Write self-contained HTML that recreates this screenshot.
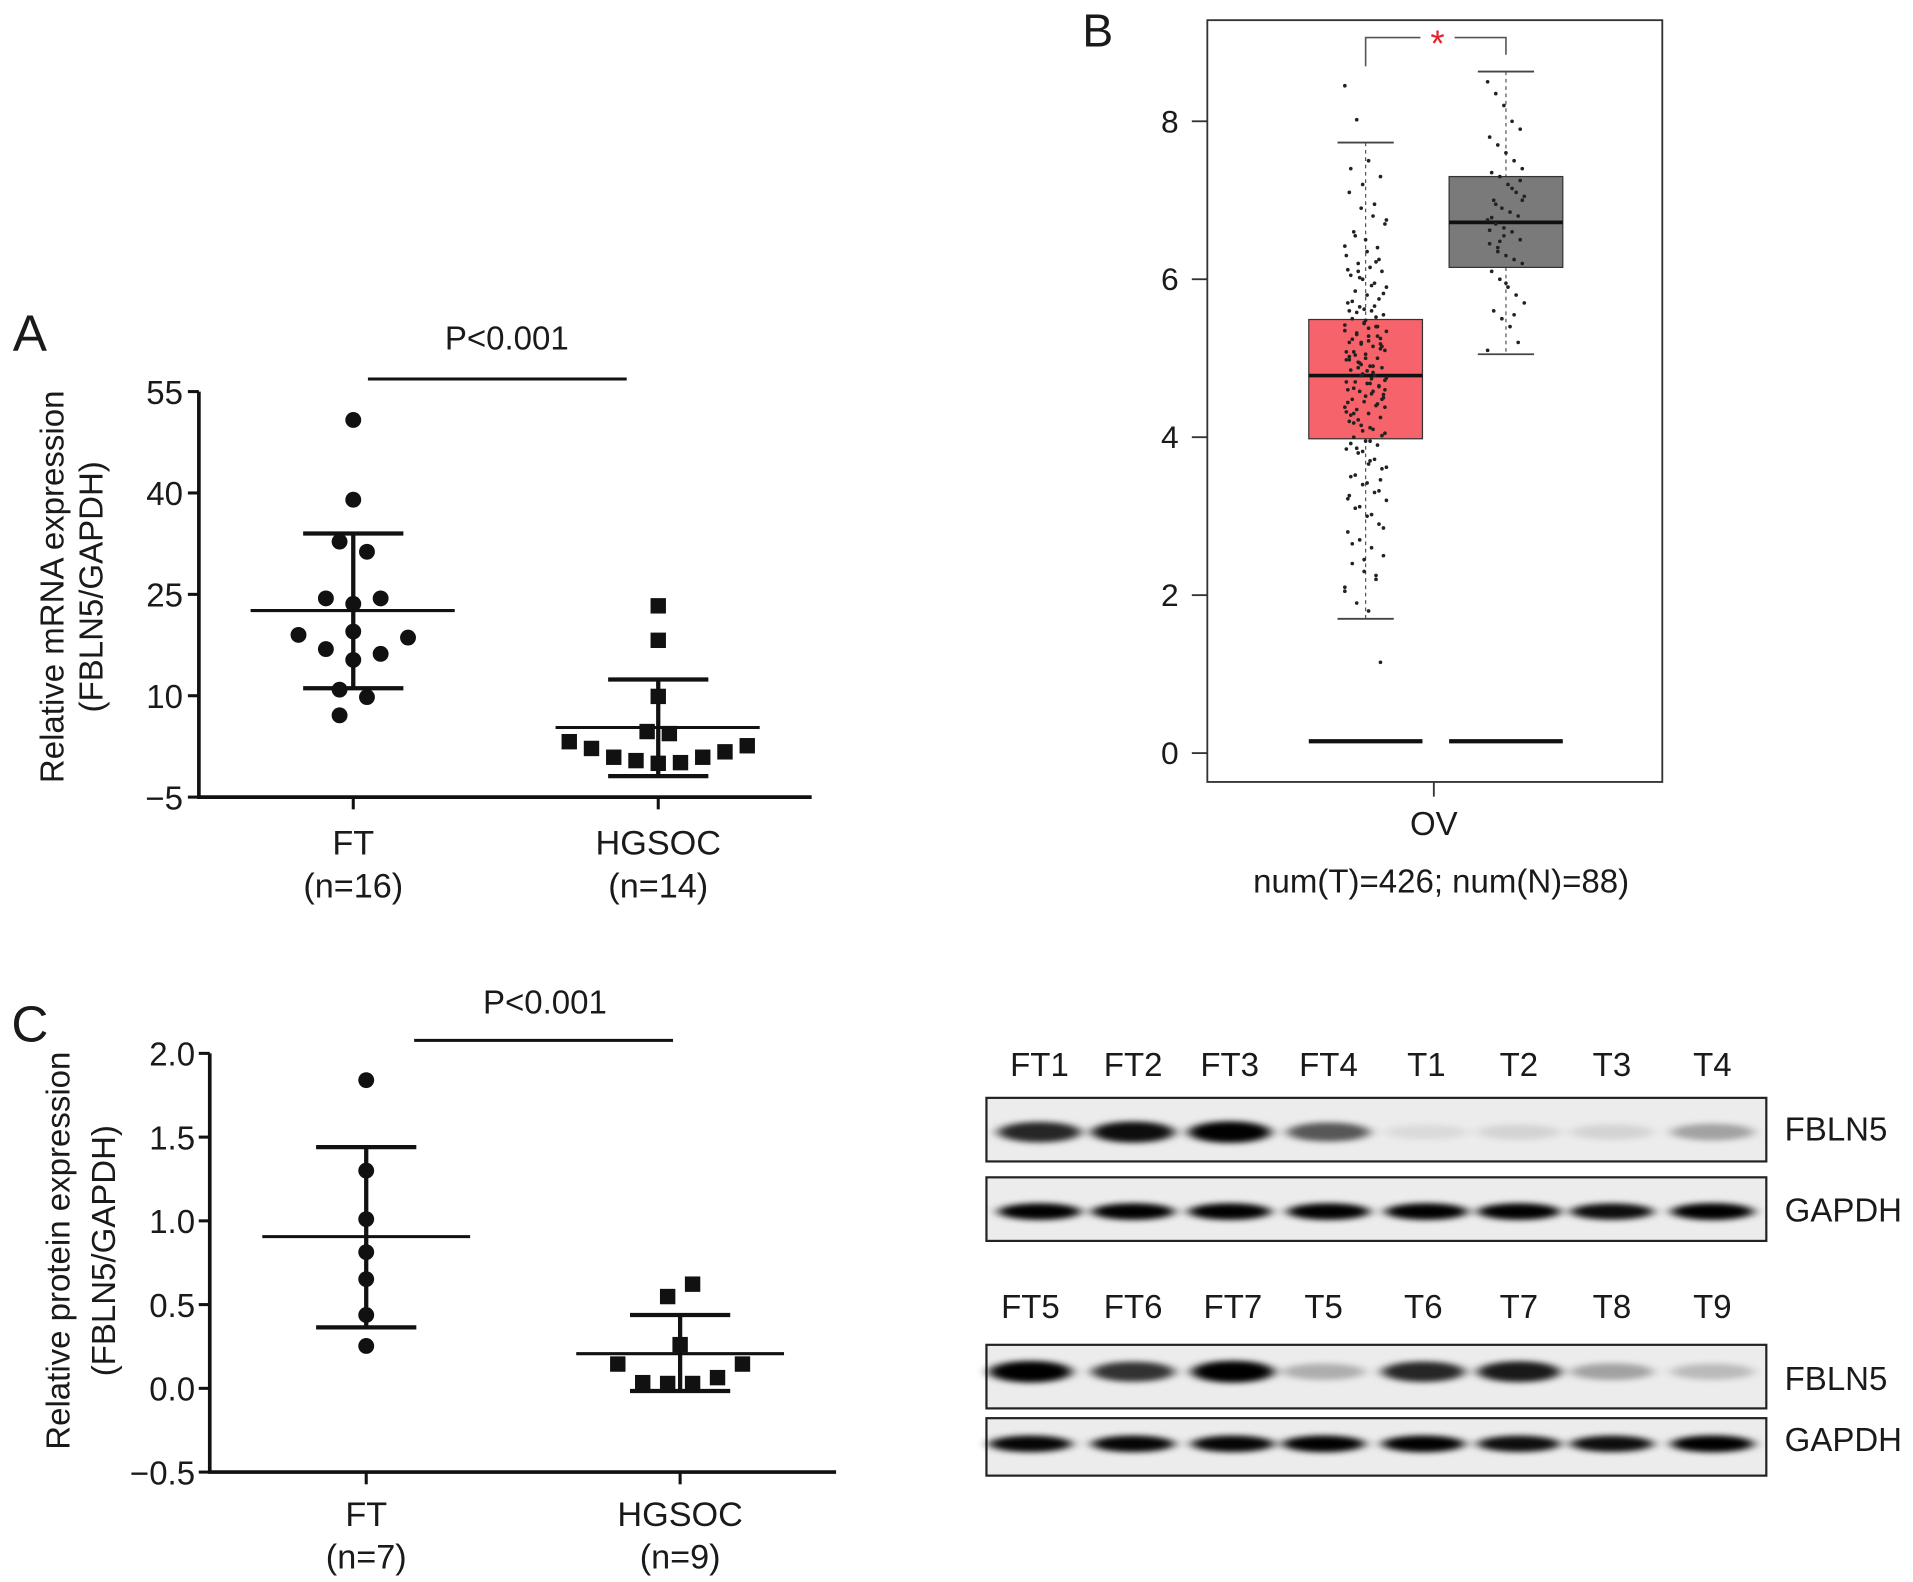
<!DOCTYPE html>
<html><head><meta charset="utf-8">
<style>
html,body{margin:0;padding:0;background:#fff;}
svg{display:block;}
text{font-family:"Liberation Sans",Arial,sans-serif;fill:#1a1a1a;}
</style></head>
<body>
<svg id="fig" width="1913" height="1582" viewBox="0 0 1565 1294" preserveAspectRatio="none" xmlns="http://www.w3.org/2000/svg">
<defs>
<filter id="blur" x="-50%" y="-150%" width="200%" height="400%"><feGaussianBlur stdDeviation="5 2.5"/></filter>
</defs>
</svg>
<script>
// ---- Panel A data ----
const aCategories = ['FT','HGSOC'];
const aTicks = [55,40,25,10,-5];
const aTickLabels = ['55','40','25','10','\u22125'];
const aFT = [50.8,39.0,32.8,31.3,24.4,24.4,23.6,19.0,19.5,18.6,16.9,16.2,15.3,10.9,9.8,7.1];
const aFTjit = [0,0,-1,1,-2,2,0,-4,0,4,-2,2,0,-1,1,-1];
const aHG = [23.3,18.2,9.9,4.7,4.4,3.2,2.2,0.9,0.4,0.0,0.1,0.9,1.7,2.6];
const aHGjit = [0,0,0,-1,1,-8,-6,-4,-2,0,2,4,6,8];
const aMean = [22.6,5.3];
const aSDhi = [34.0,12.4];
const aSDlo = [11.1,-1.9];
// ---- Panel B data ----
const bTicks = [0,2,4,6,8];
const bQ1 = [3.98,6.15], bMed=[4.78,6.72], bQ3=[5.49,7.30], bWlo=[1.70,5.05], bWhi=[7.73,8.63];
const bZero = [0.15,0.15];
const bTumorPts = [8.45,8.02,7.5,7.3,7.1,6.9,6.8,6.7,6.6,6.5,6.4,6.3,6.2,6.15,6.1,6.05,6.0,5.95,5.9,5.85,5.8,5.75,5.7,5.65,5.6,5.55,5.5,5.45,5.4,5.35,5.3,5.28,5.25,5.2,5.18,5.15,5.1,5.08,5.05,5.0,4.98,4.95,4.9,4.88,4.85,4.8,4.78,4.75,4.7,4.68,4.65,4.6,4.58,4.55,4.5,4.48,4.45,4.4,4.38,4.35,4.3,4.25,4.2,4.15,4.1,4.05,4.0,3.95,3.9,3.85,3.8,3.7,3.6,3.5,3.4,3.3,3.2,3.1,3.0,2.9,2.8,2.7,2.6,2.5,2.4,2.3,2.2,2.1,1.9,1.8,1.15,5.6,5.2,4.9,4.6,4.3,5.0,5.4,4.7,6.1,3.95,5.15,
  7.4,7.2,6.95,6.75,6.55,6.35,6.25,6.12,6.02,5.92,5.82,5.72,5.62,5.52,5.42,5.32,5.22,5.12,5.02,4.92,4.82,4.72,4.62,4.52,4.42,4.32,4.22,4.12,4.02,3.92,3.82,3.72,3.62,3.52,3.42,3.32,3.22,3.12,3.02,2.85,2.65,2.45,2.25,2.05,5.58,5.38,5.18,4.98,4.78,4.58,4.38,4.18,5.48,5.28,5.08,4.88,4.68,4.48,4.28,4.08,5.66,5.34,5.04,4.84,4.64,4.44,4.94,4.74,4.54,5.24,5.44,6.22,6.42,3.86,3.66,3.46,3.26];
const bNormalPts = [8.5,8.35,8.2,8.0,7.9,7.8,7.7,7.6,7.5,7.4,7.35,7.3,7.2,7.1,7.05,7.0,6.9,6.85,6.8,6.75,6.7,6.65,6.6,6.5,6.45,6.4,6.3,6.25,6.2,6.1,6.0,5.9,5.8,5.7,5.6,5.5,5.4,5.2,5.1,6.95,6.55,7.15,7.25,6.62,6.35,5.95,5.55,7.0,6.78,6.48];
// ---- Panel C data ----
const cTicks = [2.0,1.5,1.0,0.5,0.0,-0.5];
const cTickLabels = ['2.0','1.5','1.0','0.5','0.0','\u22120.5'];
const cFT = [1.84,1.30,1.01,0.813,0.652,0.438,0.253];
const cHG = [0.622,0.548,0.261,0.145,0.145,0.034,0.029,0.029,0.064];
const cHGjit = [1,-1,0,-5,5,-3,-1,1,3];
const cMean = [0.906,0.207];
const cSDhi = [1.44,0.438];
const cSDlo = [0.364,-0.016];
// ---- Blot data ----
const blotLanes1 = ['FT1','FT2','FT3','FT4','T1','T2','T3','T4'];
const blotLanes2 = ['FT5','FT6','FT7','T5','T6','T7','T8','T9'];
const fbln5Row1 = [0.8,0.9,0.95,0.6,0.07,0.1,0.1,0.3];
const gapdhRow1 = [0.95,0.95,0.95,0.95,0.95,0.95,0.9,0.97];
const fbln5Row2 = [0.97,0.75,1.0,0.25,0.8,0.85,0.3,0.2];
const gapdhRow2 = [0.93,0.93,0.93,0.95,0.95,0.9,0.9,0.97];

const svg = document.getElementById('fig');
const NS = 'http://www.w3.org/2000/svg';
function mk(tag, attrs, parent){const e=document.createElementNS(NS,tag);for(const k in attrs)e.setAttribute(k,attrs[k]);(parent||svg).appendChild(e);return e;}
function txt(s,x,y,size,anchor,parent,extra){const t=mk('text',Object.assign({x:x,y:y,'font-size':size,'text-anchor':anchor||'middle'},extra||{}),parent);t.textContent=s;return t;}
function line(x1,y1,x2,y2,w,parent,col){return mk('line',{x1:x1,y1:y1,x2:x2,y2:y2,stroke:col||'#111','stroke-width':w},parent);}

// ===== Panel A =====
(function(){
  const g=mk('g',{});  
  const x0=162.7, xR=664, yTop=320.3, yBot=652, vMin=-5, vMax=55;
  const y=v=>yBot-(v-vMin)/(vMax-vMin)*(yBot-yTop);
  const catX=[289,538.5]; const jw=11.2;
  let t=txt('A',24.5,287,42,'middle',g);  
  let ax=line(x0,yTop,x0,yBot,3,g);  
  ax=line(x0-1.5,yBot,xR,yBot,3,g);  
  aTicks.forEach((v,i)=>{line(x0-9,y(v),x0,y(v),2.5,g);const l=txt(aTickLabels[i],x0-13,y(v)+10,27,'end',g);});
  aCategories.forEach((c,i)=>{line(catX[i],yBot,catX[i],yBot+10,2.5,g);const l=txt(c,catX[i],699,28,'middle',g);});
  txt('(n=16)',catX[0],734,28,'middle',g);
  txt('(n=14)',catX[1],734,28,'middle',g);
  const yl=txt('Relative mRNA expression',0,0,27,'middle',g,{transform:'translate(52,480) rotate(-90)'});  
  const yl2=txt('(FBLN5/GAPDH)',0,0,27,'middle',g,{transform:'translate(84,480) rotate(-90)'});  
  const p=txt('P<0.001',414.6,286,27,'middle',g);  
  const sb=line(301,310,512.7,310,2.5,g);  
  [0,1].forEach(i=>{
    const cx=catX[i];
    line(cx,y(aSDhi[i]),cx,y(aSDlo[i]),3.5,g);
    const m=line(cx-84,y(aMean[i]),cx+83,y(aMean[i]),2.5,g);  
    const c1=line(cx-41,y(aSDhi[i]),cx+41,y(aSDhi[i]),3.5,g);  
    const c2=line(cx-41,y(aSDlo[i]),cx+41,y(aSDlo[i]),3.5,g);  
  });
  aFT.forEach((v,i)=>{const c=mk('circle',{cx:catX[0]+aFTjit[i]*jw,cy:y(v),r:6.5,fill:'#111'},g);
     });
  aHG.forEach((v,i)=>{const c=mk('rect',{x:catX[1]+aHGjit[i]*9.1-6.3,y:y(v)-6.3,width:12.6,height:12.6,fill:'#111'},g);
     });
})();

// ===== Panel B =====
(function(){
  const g=mk('g',{});  
  const fx0=987.7,fx1=1359.9,fy0=16.5,fy1=639.6;
  const y=v=>616-v*64.6;
  const centers=[1117.2,1232]; const half=46.5;
  const t=txt('B',898,38,38,'middle',g);  
  const fr=mk('rect',{x:fx0,y:fy0,width:fx1-fx0,height:fy1-fy0,fill:'none',stroke:'#333','stroke-width':1.5},g);  
  bTicks.forEach(v=>{line(975,y(v),fx0,y(v),1.5,g,'#333');const l=txt(String(v),957,y(v)+9,26,'middle',g);});
  line(1173,fy1,1173,fy1+12,1.5,g,'#333');
  const ov=txt('OV',1173,683,27,'middle',g);  
  const nt=txt('num(T)=426; num(N)=88)',1179,730,27,'middle',g);  
  const cols=['#f7636a','#7a7a7a'];
  [0,1].forEach(i=>{
    const cx=centers[i];
    line(cx,y(bWhi[i]),cx,y(bQ3[i]),1,g,'#555').setAttribute('stroke-dasharray','3,3');
    line(cx,y(bQ1[i]),cx,y(bWlo[i]),1,g,'#555').setAttribute('stroke-dasharray','3,3');
    line(cx-23,y(bWhi[i]),cx+23,y(bWhi[i]),1.5,g,'#444');
    line(cx-23,y(bWlo[i]),cx+23,y(bWlo[i]),1.5,g,'#444');
    const b=mk('rect',{x:cx-half,y:y(bQ3[i]),width:2*half,height:y(bQ1[i])-y(bQ3[i]),fill:cols[i],stroke:'#333','stroke-width':1},g);
     
    const m=line(cx-half,y(bMed[i]),cx+half,y(bMed[i]),3,g,'#111');  
    const z=line(cx-half,y(bZero[i]),cx+half,y(bZero[i]),3.5,g,'#111');  
  });
  bTumorPts.forEach((v,i)=>{const off=((i*37)%29-14)/14*17;const d=mk('circle',{cx:centers[0]+off,cy:y(v),r:1.5,fill:'#222'},g);});
  bNormalPts.forEach((v,i)=>{const off=((i*23)%19-9)/9*15;const d=mk('circle',{cx:centers[1]+off,cy:y(v),r:1.5,fill:'#222'},g);});
  const br=mk('path',{d:`M${centers[0]},54.3 V30.7 H1162 M1190,30.7 H${centers[1]} V44.8`,fill:'none',stroke:'#555','stroke-width':1.3},g);
   
  const st=txt('*',1176,46,30,'middle',g,{fill:'#e8202a'}); st.style.fill='#e8202a';  
})();

// ===== Panel C =====
(function(){
  const g=mk('g',{});  
  const x0=171.6,xR=684,yTop=861.6,yBot=1204.1,vMin=-0.5,vMax=2.0;
  const y=v=>yBot-(v-vMin)/(vMax-vMin)*(yBot-yTop);
  const catX=[299.6,556.4];
  const t=txt('C',24.5,852,42,'middle',g);  
  line(x0,yTop,x0,yBot,3,g);
  line(x0-1.5,yBot,xR,yBot,3,g);
  cTicks.forEach((v,i)=>{line(x0-9,y(v),x0,y(v),2.5,g);const l=txt(cTickLabels[i],x0-12,y(v)+10,27,'end',g);});
  aCategories.forEach((c,i)=>{line(catX[i],yBot,catX[i],yBot+10,2.5,g);const l=txt(c,catX[i],1248,28,'middle',g);});
  txt('(n=7)',catX[0],1283,28,'middle',g);
  txt('(n=9)',catX[1],1283,28,'middle',g);
  const yl=txt('Relative protein expression',0,0,27,'middle',g,{transform:'translate(57,1023) rotate(-90)'});  
  const yl2=txt('(FBLN5/GAPDH)',0,0,27,'middle',g,{transform:'translate(94,1023) rotate(-90)'});  
  const p=txt('P<0.001',445.8,829,27,'middle',g);  
  const sb=line(338.8,851,550.6,851,2.5,g);  
  [0,1].forEach(i=>{
    const cx=catX[i];
    line(cx,y(cSDhi[i]),cx,y(cSDlo[i]),3.5,g);
    const m=line(cx-85,y(cMean[i]),cx+85,y(cMean[i]),2.5,g);  
    const c1=line(cx-41,y(cSDhi[i]),cx+41,y(cSDhi[i]),3.5,g);  
    const c2=line(cx-41,y(cSDlo[i]),cx+41,y(cSDlo[i]),3.5,g);  
  });
  cFT.forEach(v=>{const c=mk('circle',{cx:catX[0],cy:y(v),r:6.5,fill:'#111'},g);});
  cHG.forEach((v,i)=>{const c=mk('rect',{x:catX[1]+cHGjit[i]*10.2-6.3,y:y(v)-6.3,width:12.6,height:12.6,fill:'#111'},g);});
})();

// ===== Western blots =====
(function(){
  const g=mk('g',{});  
  const laneX1=[850.4,927,1006,1086.8,1166.9,1242.6,1318.7,1400.9];
  const laneX2=[843,927,1008.6,1082.8,1164.4,1242.6,1318.7,1400.9];
  const bx0=807,bx1=1445;
  function box(y0,y1,name){const r=mk('rect',{x:bx0,y:y0,width:bx1-bx0,height:y1-y0,fill:'#ececec',stroke:'#222','stroke-width':1.8},g);}
  function bands(vals,xs,cy,ryBase,name){vals.forEach((v,i)=>{const e=mk('ellipse',{cx:xs[i],cy:cy,rx:34,ry:ryBase+3*v,fill:'#000','fill-opacity':Math.min(1,v*1.05),filter:'url(#blur)'},g);});}
  blotLanes1.forEach((s,i)=>{const l=txt(s,laneX1[i],880,27,'middle',g);});
  blotLanes2.forEach((s,i)=>{const l=txt(s,laneX2[i],1078,27,'middle',g);});
  box(898,950,'fbln5-blot-1'); bands(fbln5Row1,laneX1,926,6,'fbln5-band');
  box(963,1015,'gapdh-blot-1'); bands(gapdhRow1,laneX1,991,4,'gapdh-band');
  box(1100,1152,'fbln5-blot-2'); bands(fbln5Row2,laneX2,1122,6,'fbln5-band');
  box(1160,1207,'gapdh-blot-2'); bands(gapdhRow2,laneX2,1181,4,'gapdh-band');
  const pl=[['FBLN5',933],['GAPDH',999],['FBLN5',1137],['GAPDH',1187]];
  pl.forEach(a=>{const l=txt(a[0],1460,a[1],27,'start',g);});
})();
</script>
</body></html>
